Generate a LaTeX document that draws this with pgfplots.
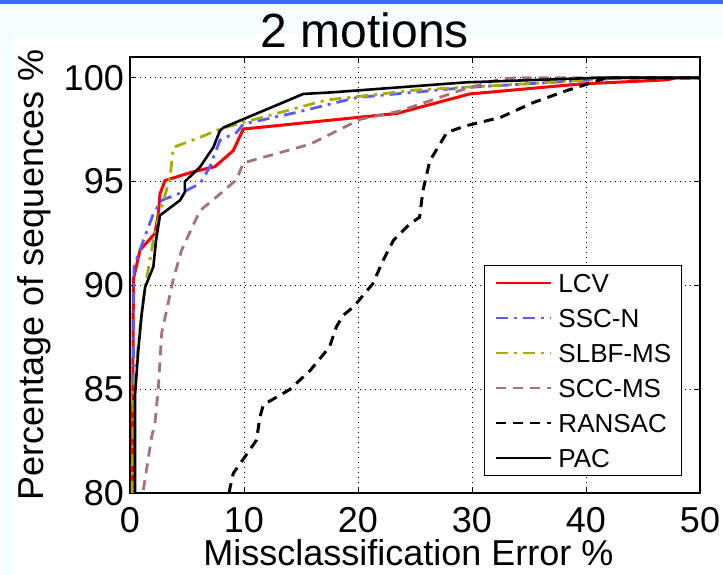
\documentclass[border=0pt]{standalone}
\usepackage{fontspec}
\setmainfont{Liberation Sans}
\usepackage{pgfplots}
\pgfplotsset{compat=1.18}
\usepackage{pgfplotstable}
\definecolor{bgcyan}{RGB}{243,252,255}
\definecolor{topblue}{RGB}{59,104,255}
\definecolor{sscblue}{RGB}{90,90,255}
\definecolor{slbfolive}{RGB}{170,170,0}
\definecolor{sccbrown}{RGB}{165,115,115}

\pgfplotstableread{
x y
0.2 80
0.3 90.3
0.88 91.7
2.19 92.5
2.49 93.45
2.63 94.4
3.07 95.05
5.41 95.45
7.46 95.72
9.06 96.49
9.94 97.53
23.4 98.28
29.8 99.22
39.5 99.70
47.1 99.9
48 100
50 100
}\lcv
\pgfplotstableread{
x y
0.25 80
0.35 90.9
1.17 92.16
2.05 93.45
2.78 94.1
4.68 94.5
6.14 94.9
7.0 95.7
7.9 97.0
9.36 97.37
9.94 97.77
14.6 98.33
19.9 99.05
29.5 99.53
38.3 99.82
41.8 99.94
42.5 100
50 100
}\sscn
\pgfplotstableread{
x y
0.2 80
0.3 84.8
0.88 88
1.32 89.9
2.19 92.6
3.51 95.2
3.8 96.65
6.14 97.13
7.9 97.53
9.94 97.85
17.25 98.93
25.1 99.41
35.4 99.73
41.2 99.94
42 100
50 100
}\slbf
\pgfplotstableread{
x y
1.17 80.14
1.9 82.7
2.19 83.35
2.49 85.1
2.78 87.7
3.8 90.3
4.53 91.7
6.14 93.6
7.89 94.4
9.36 95.1
9.94 95.9
15.8 96.8
20.2 98.0
23.7 98.4
28.9 99.38
32.5 99.94
33.9 100
50 100
}\scc
\pgfplotstableread{
x y
8.7 80
8.77 80.24
9.06 80.95
10.09 81.75
11.1 82.55
11.4 83.67
11.7 84.25
14.0 84.98
15.8 85.9
17.5 87.03
18.1 88.0
18.7 88.56
19.6 88.96
21.3 90.08
22.2 91.2
23.1 92.16
24.56 92.97
25.4 93.28
25.7 94.57
25.9 95.05
26.3 96.0
27.8 97.37
29.5 97.69
32.5 98.09
35.4 98.81
38.3 99.38
40.6 99.78
41.5 99.94
42 100
50 100
}\ransac
\pgfplotstableread{
x y
0.44 80
0.44 84.7
0.73 86.9
1.02 88.6
1.32 89.9
2.05 90.9
2.28 92.16
2.63 93.37
4.39 94.1
4.82 94.5
4.82 95.0
6.14 95.7
7.31 96.65
7.89 97.45
8.19 97.6
15.2 99.22
17.8 99.3
29.5 99.78
41.2 100
50 100
}\pac

\begin{document}
\begin{tikzpicture}[x=1pt,y=1pt]
\fill[bgcyan] (0,0) rectangle (723,575);
\fill[white] (12,0) rectangle (723,540);
\fill[topblue] (0,571) rectangle (723,575);
\begin{axis}[
  at={(130pt,82pt)}, anchor=south west,
  scale only axis, width=570pt, height=436pt,
  xmin=0, xmax=50, ymin=80, ymax=101,
  xtick={0,10,20,30,40,50},
  ytick={80,85,90,95,100},
  tick align=inside,
  major tick length=6pt,
  tick style={black, line width=0.8pt},
  axis line style={black, line width=1.2pt},
  grid=major,
  major grid style={black, line width=1pt, dash pattern=on 1pt off 4pt},
  /pgf/number format/assume math mode=true,
  ticklabel style={font=\fontsize{36}{40}\selectfont, inner sep=0pt},
  xticklabel shift=14pt,
  yticklabel shift=6pt,
  xlabel={Missclassification Error \%},
  ylabel={Percentage of sequences \%},
  every axis x label/.style={at={(axis description cs:0.4886,-0.1674)}, anchor=base, font=\fontsize{36}{40}\selectfont, inner sep=0pt},
  every axis y label/.style={at={(axis description cs:-0.1386,0.5)}, anchor=south, rotate=90, font=\fontsize{36}{40}\selectfont, inner sep=0pt},
  title={2 motions},
  every axis title/.style={at={(axis description cs:0.4123,1.0229)}, anchor=base, font=\fontsize{48}{52}\selectfont, inner sep=0pt},
  legend image code/.code={\draw[#1, line width=2.6pt] (0pt,0pt) -- (55pt,0pt);},
  legend cell align=left,
  legend style={at={(axis description cs:0.968,0.523)}, anchor=north east,
    draw=black, line width=1.2pt, fill=white,
    font=\fontsize{26}{28}\selectfont,
    inner xsep=10pt, inner ysep=8pt,
    nodes={inner sep=0pt, text height=19pt, text depth=0pt},
    row sep=16pt,
    /tikz/column 1/.style={column sep=6pt}},
]
\addplot[red, line width=3pt] table[x=x,y=y] {\lcv};
\addlegendentry{LCV}
\addplot[sscblue, line width=2.8pt, dash pattern=on 12pt off 6pt on 3pt off 6pt] table[x=x,y=y] {\sscn};
\addlegendentry{SSC-N}
\addplot[slbfolive, line width=2.8pt, dash pattern=on 12pt off 6pt on 3pt off 6pt] table[x=x,y=y] {\slbf};
\addlegendentry{SLBF-MS}
\addplot[sccbrown, line width=2.8pt, dash pattern=on 10pt off 7pt] table[x=x,y=y] {\scc};
\addlegendentry{SCC-MS}
\addplot[black, line width=3pt, dash pattern=on 10pt off 7pt] table[x=x,y=y] {\ransac};
\addlegendentry{RANSAC}
\addplot[black, line width=2.6pt] table[x=x,y=y] {\pac};
\addlegendentry{PAC}
\end{axis}
\end{tikzpicture}
\end{document}
